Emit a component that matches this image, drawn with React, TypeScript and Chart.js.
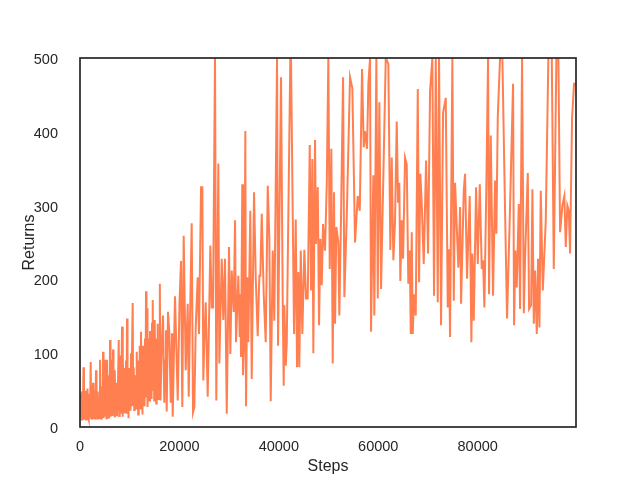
import React, { useEffect, useRef } from "react";
import { Chart, registerables } from "chart.js";

Chart.register(...registerables);

const steps: number[] = [
  20, 200, 300, 400, 500, 600, 700, 800, 910, 1010,
  1110, 1210, 1310, 1410, 1510, 1610, 1710, 1810, 1910, 2010,
  2150, 2250, 2370, 2470, 2620, 2720, 2820, 2920, 3020, 3120,
  3220, 3320, 3420, 3520, 3620, 3720, 3820, 3920, 4020, 4120,
  4230, 4330, 4430, 4530, 4630, 4730, 4830, 4930, 5030, 5130,
  5230, 5330, 5430, 5530, 5630, 5730, 5830, 5940, 6040, 6140,
  6240, 6340, 6440, 6540, 6640, 6740, 6840, 6940, 7040, 7140,
  7240, 7340, 7440, 7550, 7790, 7890, 7990, 8090, 8190, 8290,
  8450, 8550, 8650, 8750, 8850, 8950, 9050, 9150, 9260, 9360,
  9460, 9560, 9660, 9760, 9860, 9960, 10060, 10160, 10260, 10360,
  10460, 10600, 10700, 10800, 10910, 11010, 11110, 11210, 11310, 11410,
  11510, 11610, 11710, 11810, 11910, 12010, 12110, 12270, 12370, 12470,
  12570, 12680, 12780, 12880, 12980, 13080, 13180, 13280, 13380, 13480,
  13580, 13680, 13780, 13880, 13980, 14080, 14180, 14290, 14390, 14490,
  14630, 14730, 14830, 14930, 15030, 15130, 15230, 15330, 15430, 15530,
  15630, 15730, 15830, 15940, 16060, 16200, 16400, 16700, 16960, 17100,
  17300, 17440, 17700, 17970, 18250, 18510, 18650, 19110, 19660, 20020,
  20320, 20580, 20860, 21270, 21670, 21870, 22470, 22740, 23000, 23280,
  23680, 23940, 24350, 24610, 24810, 25010, 25290, 25690, 26220, 26500,
  26760, 27160, 27420, 27830, 28030, 28510, 28830, 29170, 29520, 29980,
  30240, 30520, 30920, 31190, 31390, 31850, 32130, 32250, 32390, 32650,
  32790, 33060, 33260, 33400, 33660, 33860, 34260, 34550, 35010, 35350,
  35750, 36080, 36280, 36560, 36960, 37360, 37770, 38090, 38370, 38770,
  39090, 39640, 39840, 40440, 40780, 40980, 41110, 41390, 41590, 42310,
  42450, 43060, 43400, 43660, 43920, 44120, 44410, 44730, 45130, 45470,
  45810, 46220, 46480, 46740, 46940, 47280, 47480, 47830, 48090, 48350,
  48630, 48890, 49290, 49640, 49960, 50240, 50560, 50840, 51100, 51310,
  51570, 51970, 52170, 52510, 52920, 53180, 53660, 54320, 54790, 55330,
  55870, 56280, 56740, 57080, 57340, 57740, 58010, 58350, 58550, 59010,
  59210, 59620, 59900, 60220, 60560, 61510, 62030, 62430, 62710, 63040,
  63380, 63720, 63980, 64240, 64440, 64730, 64990, 65390, 65730, 66050,
  66340, 66540, 66740, 66940, 67200, 67540, 67950, 68210, 68470, 68750,
  69150, 69620, 70020, 70420, 70880, 71220, 71570, 71970, 72230, 72630,
  73040, 73580, 73980, 74240, 74440, 74910, 75190, 75450, 76110, 76460,
  76660, 77200, 77460, 77860, 78400, 78730, 78930, 79210, 79680, 80020,
  80420, 80820, 81080, 81350, 81750, 82090, 82290, 82630, 83090, 83500,
  83760, 84040, 84500, 84970, 85510, 85910, 86520, 87120, 87320, 87580,
  87860, 88270, 88530, 88930, 89280, 89540, 90080, 90340, 90750, 91010,
  91290, 91550, 91890, 92150, 92420, 92690, 93100, 93700, 94220, 94910,
  95310, 95830, 96240, 96580, 97040, 97440, 97720, 98040, 98330, 98590,
  98990, 99390, 99780,
];

const returns: number[] = [
  15, 45, 10, 48, 12, 30, 81, 10, 40, 12,
  49, 10, 35, 11, 52, 14, 30, 10, 45, 13,
  88, 12, 40, 10, 60, 11, 35, 14, 50, 10,
  77, 12, 30, 10, 48, 15, 20, 12, 91, 14,
  55, 10, 40, 16, 102, 12, 60, 14, 91, 18,
  45, 12, 91, 16, 50, 13, 70, 17, 118, 14,
  60, 20, 91, 15, 105, 18, 50, 13, 77, 20,
  60, 16, 45, 22, 118, 15, 65, 20, 97, 18,
  136, 14, 95, 50, 80, 20, 60, 25, 90, 18,
  147, 40, 70, 12, 80, 30, 60, 22, 100, 28,
  75, 168, 30, 81, 23, 70, 30, 63, 25, 102,
  35, 80, 17, 90, 30, 110, 25, 129, 40, 93,
  17, 110, 35, 90, 28, 120, 40, 184, 60, 161,
  27, 120, 40, 102, 36, 130, 45, 100, 38, 140,
  172, 50, 111, 36, 145, 45, 120, 32, 100, 50,
  140, 38, 110, 45, 194, 36, 100, 151, 33, 90,
  131, 21, 156, 127, 33, 127, 14, 177, 36, 169,
  225, 27, 259, 77, 167, 41, 276, 20, 27, 135,
  203, 126, 325, 325, 63, 117, 169, 41, 246, 162,
  162, 500, 36, 357, 86, 228, 145, 228, 18, 244,
  99, 212, 156, 280, 115, 205, 122, 180, 95, 329,
  70, 122, 401, 28, 203, 115, 293, 65, 318, 203,
  123, 205, 205, 289, 180, 115, 327, 255, 35, 239,
  144, 500, 110, 474, 171, 56, 165, 83, 113, 500,
  500, 126, 281, 81, 210, 81, 239, 126, 240, 174,
  174, 382, 185, 363, 100, 389, 248, 325, 138, 255,
  192, 275, 239, 329, 500, 214, 377, 86, 318, 140,
  271, 250, 151, 284, 474, 176, 284, 474, 459, 250,
  313, 293, 485, 379, 401, 377, 465, 500, 129, 341,
  151, 500, 174, 440, 187, 500, 492, 240, 365, 226,
  280, 414, 304, 331, 198, 280, 228, 365, 356, 194,
  239, 126, 264, 126, 180, 151, 458, 196, 343, 302,
  221, 361, 235, 455, 500, 178, 500, 169, 500, 138,
  426, 446, 162, 241, 122, 500, 171, 331, 216, 298,
  167, 320, 343, 201, 313, 115, 235, 144, 325, 221,
  329, 214, 226, 162, 329, 500, 180, 395, 178, 334,
  262, 419, 500, 500, 293, 147, 300, 465, 138, 239,
  189, 302, 160, 500, 154, 230, 344, 160, 165, 322,
  140, 212, 126, 228, 135, 320, 185, 280, 500, 500,
  214, 500, 500, 264, 300, 313, 244, 300, 293, 235,
  419, 465, 465,
];

const xTicks: number[] = [0, 20000, 40000, 60000, 80000];
const yTicks: number[] = [0, 100, 200, 300, 400, 500];
const xLabel = "Steps";
const yLabel = "Returns";

const TEXT = "#262626";
const FONT = "'Liberation Sans', Arial, sans-serif";

const framePlugin = {
  id: "frame",
  afterDraw(chart: any) {
    const { ctx, chartArea } = chart;
    const { left, top, right, bottom } = chartArea;
    ctx.save();
    ctx.strokeStyle = TEXT;
    ctx.lineWidth = 1.7;
    ctx.strokeRect(left, top, right - left, bottom - top);
    ctx.restore();
  },
};

export default function App() {
  const ref = useRef<HTMLCanvasElement | null>(null);

  useEffect(() => {
    if (!ref.current) return;
    const points = steps.map((s, i) => ({ x: s, y: returns[i] }));
    const chart = new Chart(ref.current, {
      type: "line",
      data: {
        datasets: [
          {
            data: points,
            borderColor: "rgb(255,127,80)",
            borderWidth: 2,
            pointRadius: 0,
            tension: 0,
            fill: false,
            clip: 0,
          } as any,
        ],
      },
      options: {
        animation: false,
        responsive: false,
        events: [],
        layout: { padding: { left: 0, right: 64, top: 58, bottom: 0 } },
        plugins: {
          legend: { display: false },
          tooltip: { enabled: false },
        },
        scales: {
          x: {
            type: "linear",
            min: 0,
            max: 99780,
            grid: { display: false },
            border: { display: false },
            afterFit: (s: any) => {
              s.height = 53;
            },
            afterBuildTicks: (s: any) => {
              s.ticks = xTicks.map((v) => ({ value: v }));
            },
            ticks: {
              includeBounds: false,
              autoSkip: false,
              maxRotation: 0,
              padding: 3,
              color: TEXT,
              font: { family: FONT, size: 14.5 },
              callback: (v: any) => String(v),
            },
            title: {
              display: true,
              text: xLabel,
              color: TEXT,
              font: { family: FONT, size: 16 },
              padding: { top: 0, bottom: 4 },
            },
          },
          y: {
            type: "linear",
            min: 0,
            max: 500,
            grid: { display: false },
            border: { display: false },
            afterFit: (s: any) => {
              s.width = 80;
            },
            afterBuildTicks: (s: any) => {
              s.ticks = yTicks.map((v) => ({ value: v }));
            },
            ticks: {
              autoSkip: false,
              padding: 14,
              labelOffset: 2,
              color: TEXT,
              font: { family: FONT, size: 14.5 },
              callback: (v: any) => String(v),
            },
            title: {
              display: true,
              text: yLabel,
              color: TEXT,
              font: { family: FONT, size: 16 },
              padding: { top: 20, bottom: 0 },
            },
          },
        },
      },
      plugins: [framePlugin],
    });
    return () => chart.destroy();
  }, []);

  return (
    <div style={{ position: "absolute", left: 0, top: 0, width: 640, height: 480, background: "#fff" }}>
      <canvas ref={ref} width={640} height={480} />
    </div>
  );
}
